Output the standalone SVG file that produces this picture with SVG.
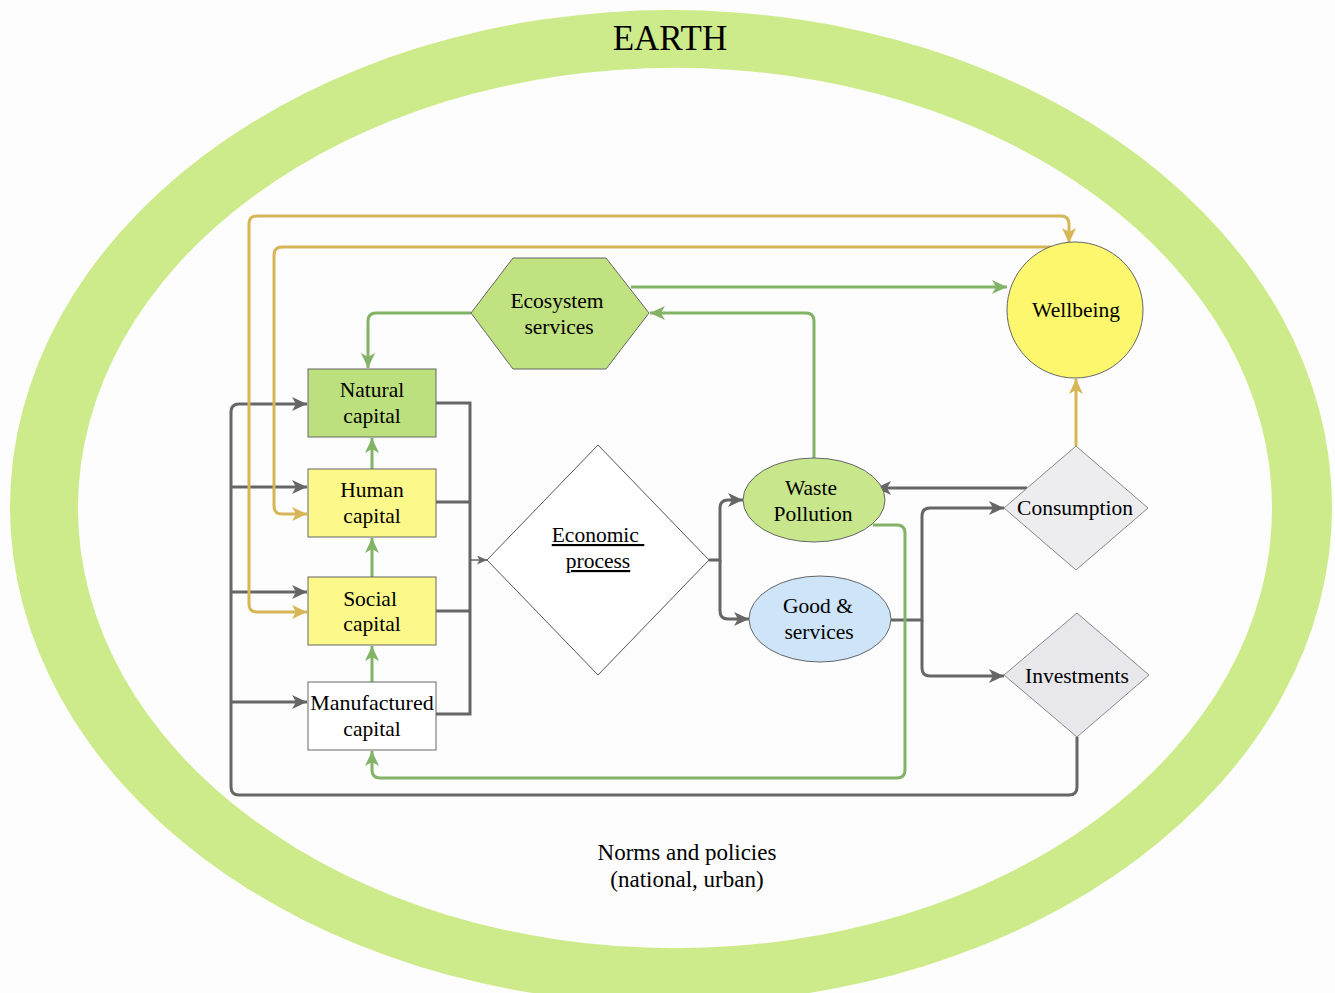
<svg xmlns="http://www.w3.org/2000/svg" width="1335" height="993" viewBox="0 0 1335 993">
<style>
.lbl{font-family:"Liberation Serif","Times New Roman",serif;font-size:21.5px;fill:#000;text-anchor:middle}
.g{fill:none;stroke:#666;stroke-width:3}
.gt{fill:none;stroke:#666;stroke-width:1.5}
.gr{fill:none;stroke:#82b366;stroke-width:3}
.au{fill:none;stroke:#d6b656;stroke-width:3}
.node{stroke:#666;stroke-width:1}
</style>
<defs>
<marker id="ag" markerUnits="userSpaceOnUse" markerWidth="16" markerHeight="14" viewBox="0 0 16 14" refX="15" refY="7" orient="auto"><path d="M0,0 L15,7 L0,14 L4,7 z" fill="#666"/></marker>
<marker id="ags" markerUnits="userSpaceOnUse" markerWidth="10" markerHeight="9" viewBox="0 0 10 9" refX="10" refY="4.5" orient="auto"><path d="M0,0 L10,4.5 L0,9 L2.5,4.5 z" fill="#666"/></marker>
<marker id="agr" markerUnits="userSpaceOnUse" markerWidth="16" markerHeight="14" viewBox="0 0 16 14" refX="15" refY="7" orient="auto"><path d="M0,0 L15,7 L0,14 L4,7 z" fill="#82b366"/></marker>
<marker id="aau" markerUnits="userSpaceOnUse" markerWidth="16" markerHeight="14" viewBox="0 0 16 14" refX="15" refY="7" orient="auto-start-reverse"><path d="M0,0 L15,7 L0,14 L4,7 z" fill="#d6b656"/></marker>
</defs>
<rect width="1335" height="993" fill="#fdfdfd"/>
<g id="earth">
<path fill="#cdeb8b" fill-rule="evenodd" d="M10,507 A661,497 0 1 0 1332,507 A661,497 0 1 0 10,507 Z M78,508 A597,440 0 1 0 1272,508 A597,440 0 1 0 78,508 Z"/>
<text class="lbl" x="670" y="50" style="font-size:35px">EARTH</text>
</g>
<g id="norms"><text class="lbl" x="687" y="860" style="font-size:23px">Norms and policies</text><text class="lbl" x="687" y="887" style="font-size:23px">(national, urban)</text></g>
<g id="connectors">
<path class="g" d="M1077,737 V787 Q1077,795 1069,795 H239 Q231,795 231,787 V412 Q231,404 239,404 H307" marker-end="url(#ag)"/>
<path class="g" d="M231,487 H307" marker-end="url(#ag)"/>
<path class="g" d="M231,592 H307" marker-end="url(#ag)"/>
<path class="g" d="M231,702 H307" marker-end="url(#ag)"/>
<path class="g" d="M436,403 H470 V714 H436 M436,502 H470 M436,611 H470"/>
<path class="gt" d="M470,560 H487" marker-end="url(#ags)"/>
<path class="g" d="M709,560 H720 V508 Q720,500 728,500 H743" marker-end="url(#ag)"/>
<path class="g" d="M720,560 V611 Q720,619 728,619 H749" marker-end="url(#ag)"/>
<path class="g" d="M891,620 H922 V516 Q922,508 930,508 H1004" marker-end="url(#ag)"/>
<path class="g" d="M922,620 V668 Q922,676 930,676 H1004" marker-end="url(#ag)"/>
<path class="g" d="M1027,488 H876" marker-end="url(#ag)"/>
<path class="gr" d="M471,313 H376 Q368,313 368,321 V368" marker-end="url(#agr)"/>
<path class="gr" d="M631,287 H1007" marker-end="url(#agr)"/>
<path class="gr" d="M814,458 V321 Q814,313 806,313 H650" marker-end="url(#agr)"/>
<path class="gr" d="M873,525 H897 Q905,525 905,533 V770 Q905,778 897,778 H380 Q372,778 372,770 V751" marker-end="url(#agr)"/>
<path class="gr" d="M372,469 V438" marker-end="url(#agr)"/>
<path class="gr" d="M372,577 V538" marker-end="url(#agr)"/>
<path class="gr" d="M372,682 V646" marker-end="url(#agr)"/>
<path class="au" d="M307,612 H257 Q249,612 249,604 V224 Q249,216 257,216 H1061 Q1069,216 1069,224 V243" marker-start="url(#aau)" marker-end="url(#aau)"/>
<path class="au" d="M1051,247 H282 Q274,247 274,255 V506 Q274,514 282,514 H307" marker-end="url(#aau)"/>
<path class="au" d="M1076,446 V379" marker-end="url(#aau)"/>
</g>
<g id="natural"><rect class="node" x="308" y="369" width="128" height="68" fill="#bde07e"/><text class="lbl" x="372" y="397">Natural</text><text class="lbl" x="372" y="423">capital</text></g>
<g id="human"><rect class="node" x="308" y="469" width="128" height="68" fill="#fcf98a"/><text class="lbl" x="372" y="497">Human</text><text class="lbl" x="372" y="523">capital</text></g>
<g id="social"><rect class="node" x="308" y="577" width="128" height="68" fill="#fcf98a"/><text class="lbl" x="370" y="606">Social</text><text class="lbl" x="372" y="631">capital</text></g>
<g id="manufactured"><rect class="node" x="308" y="682" width="128" height="68" fill="#ffffff"/><text class="lbl" x="372" y="710" style="font-size:22px">Manufactured</text><text class="lbl" x="372" y="736">capital</text></g>
<g id="ecosystem"><polygon class="node" points="471,313 513,258 606,258 649,313 606,369 513,369" fill="#c0e280"/><text class="lbl" x="557" y="308">Ecosystem</text><text class="lbl" x="559" y="334">services</text></g>
<g id="economic"><polygon points="598,445 709,560 598,675 487,560" fill="#ffffff" stroke="#555" stroke-width="1"/><text class="lbl" x="598" y="542" xml:space="preserve" style="text-decoration:underline">Economic </text><text class="lbl" x="598" y="568" style="text-decoration:underline">process</text></g>
<g id="waste"><ellipse class="node" cx="814" cy="500" rx="71" ry="42" fill="#c8e68c"/><text class="lbl" x="811" y="495">Waste</text><text class="lbl" x="813" y="521">Pollution</text></g>
<g id="goods"><ellipse class="node" cx="820" cy="619" rx="71" ry="43" fill="#cde4f9"/><text class="lbl" x="818" y="613">Good &amp;</text><text class="lbl" x="819" y="639">services</text></g>
<g id="wellbeing"><circle class="node" cx="1075" cy="310" r="68" fill="#fcf76d"/><text class="lbl" x="1076" y="317">Wellbeing</text></g>
<g id="consumption"><polygon points="1076,446 1148,508 1076,570 1004,508" fill="#ededf0" stroke="#888" stroke-width="1"/><text class="lbl" x="1075" y="515">Consumption</text></g>
<g id="investments"><polygon points="1077,613 1149,675 1077,737 1004,675" fill="#e8e8ec" stroke="#888" stroke-width="1"/><text class="lbl" x="1077" y="683">Investments</text></g>
</svg>
